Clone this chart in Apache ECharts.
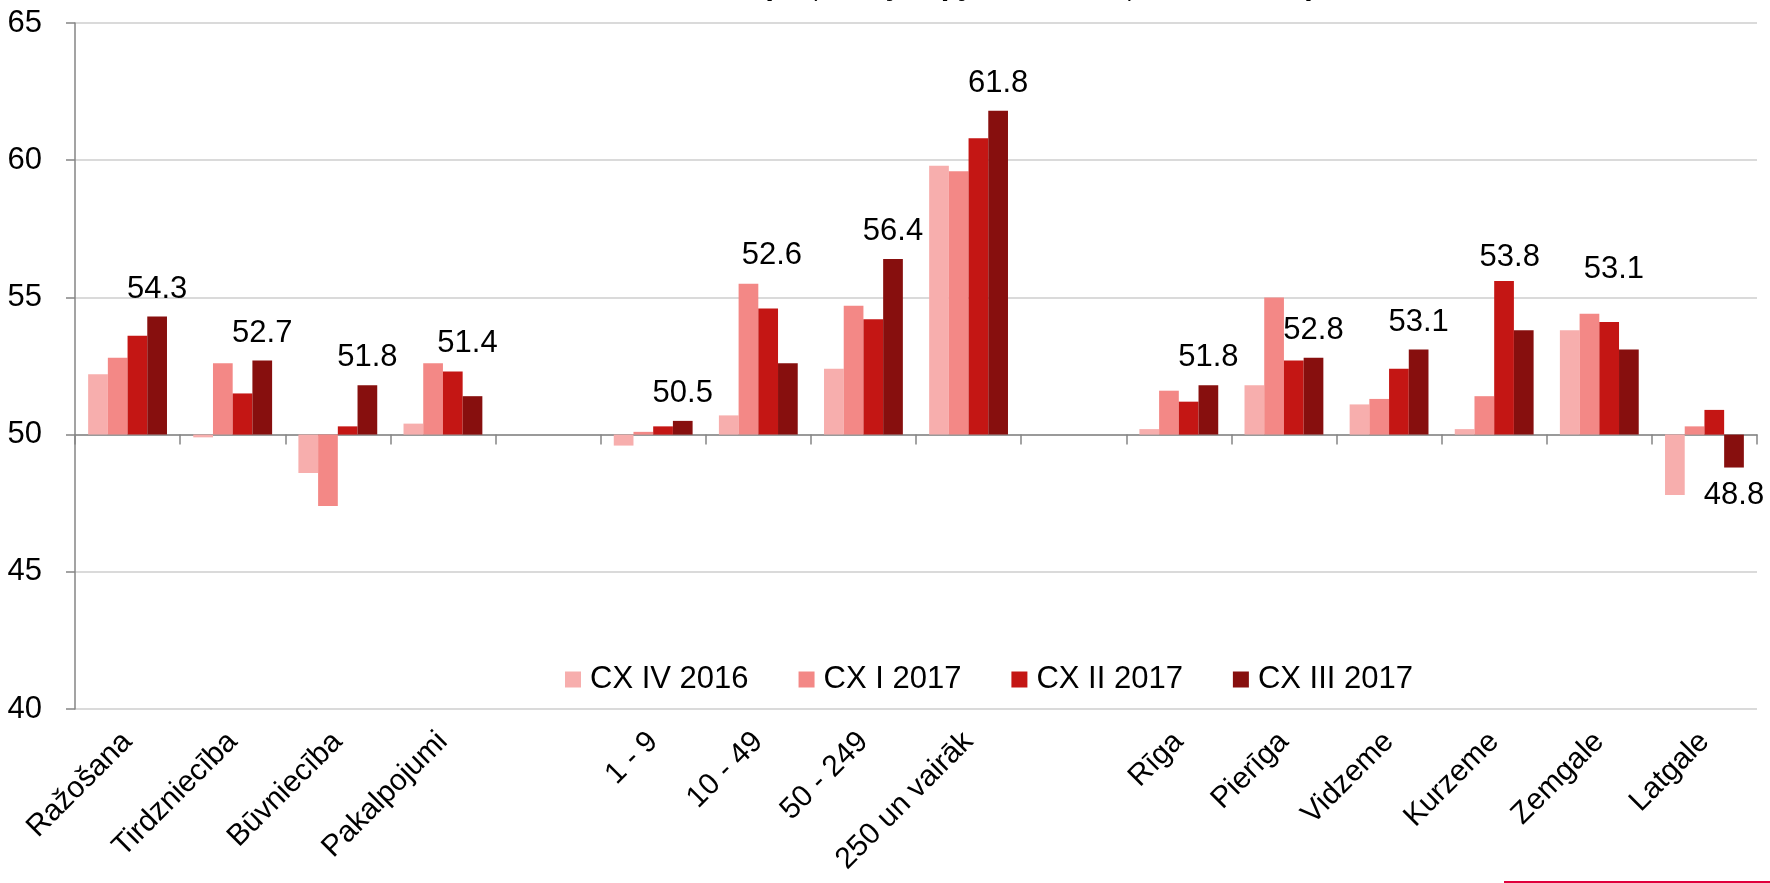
<!DOCTYPE html>
<html lang="lv">
<head>
    <meta charset="UTF-8">
    <title>CX</title>
    <style>
        html, body { margin: 0; padding: 0; background: #fff; }
        #chart { width: 1770px; height: 883px; }
    </style>
</head>
<body>
<div id="chart"></div>

<script src="https://cdn.jsdelivr.net/npm/echarts@6/dist/echarts.min.js"></script>
<script>
    // kategorijas (tukšās vietas - atstarpes starp grupām)
    var categories = ['Ražošana', 'Tirdzniecība', 'Būvniecība', 'Pakalpojumi', '',
        '1 - 9', '10 - 49', '50 - 249', '250 un vairāk', '',
        'Rīga', 'Pierīga', 'Vidzeme', 'Kurzeme', 'Zemgale', 'Latgale'];

    var seriesNames = ['CX IV 2016', 'CX I 2017', 'CX II 2017', 'CX III 2017'];

    var cxIV2016 = [52.2, 49.9, 48.6, 50.4, null, 49.6, 50.7, 52.4, 59.8, null, 50.2, 51.8, 51.1, 50.2, 53.8, 47.8];
    var cxI2017 = [52.8, 52.6, 47.4, 52.6, null, 50.1, 55.5, 54.7, 59.6, null, 51.6, 55.0, 51.3, 51.4, 54.4, 50.3];
    var cxII2017 = [53.6, 51.5, 50.3, 52.3, null, 50.3, 54.6, 54.2, 60.8, null, 51.2, 52.7, 52.4, 55.6, 54.1, 50.9];
    var cxIII2017 = [54.3, 52.7, 51.8, 51.4, null, 50.5, 52.6, 56.4, 61.8, null, 51.8, 52.8, 53.1, 53.8, 53.1, 48.8];

    var yTicks = [40, 45, 50, 55, 60, 65];

    var baseLine = 50;  // stabiņi sākas no 50
    var colors = ['#F7AEAD', '#F38886', '#C41614', '#870F0E'];
    var font = 'Liberation Sans, Arial, sans-serif';

    // dažām vērtību etiķetēm ir pārbīdīta vieta
    var labelShift = {3: [-5, -25], 6: [-16, -80], 13: [-14, -45], 14: [-15, -53]};

    function shifted(arr) {
        return arr.map(function (v) { return v == null ? '-' : +(v - baseLine).toFixed(2); });
    }

    var lastData = cxIII2017.map(function (v, i) {
        if (v == null) return '-';
        var item = {value: +(v - baseLine).toFixed(2), label: {}};
        if (v < baseLine) item.label.position = 'bottom';
        if (labelShift[i]) item.label.offset = labelShift[i];
        return item;
    });

    var allData = [shifted(cxIV2016), shifted(cxI2017), shifted(cxII2017), lastData];

    var series = seriesNames.map(function (name, k) {
        var s = {
            name: name,
            type: 'bar',
            xAxisIndex: 0,
            barGap: '0%',
            barCategoryGap: '25%',
            itemStyle: {color: colors[k]},
            data: allData[k]
        };
        if (k === 3) {
            s.label = {
                show: true,
                position: 'top',
                distance: 12,
                color: '#000',
                fontFamily: font,
                fontSize: 31,
                formatter: function (p) { return cxIII2017[p.dataIndex].toFixed(1); }
            };
        }
        return s;
    });

    var myChart = echarts.init(document.getElementById('chart'));
    var option = {
        animation: false,
        backgroundColor: '#fff',
        grid: {left: 75, right: 13, top: 23, bottom: 174, containLabel: false},
        legend: {
            data: seriesNames,
            left: 560,
            top: 659,
            icon: 'rect',
            itemWidth: 16,
            itemHeight: 16,
            itemGap: 50,
            textStyle: {fontFamily: font, fontSize: 31, color: '#000', padding: [0, 0, 0, 4]}
        },
        xAxis: [{
            type: 'category',
            data: categories,
            axisLine: {onZero: true, lineStyle: {color: '#858585', width: 1.5}},
            axisTick: {show: true, length: 10, lineStyle: {color: '#858585', width: 1.5}},
            axisLabel: {show: false}
        }, {
            type: 'category',
            data: categories,
            position: 'bottom',
            axisLine: {show: false, onZero: false},
            axisTick: {show: false},
            axisLabel: {
                interval: 0,
                rotate: 45,
                margin: 28,
                fontFamily: font,
                fontSize: 30,
                color: '#000'
            }
        }],
        yAxis: {
            type: 'value',
            min: yTicks[0] - baseLine,
            max: yTicks[yTicks.length - 1] - baseLine,
            interval: 5,
            axisLine: {show: true, lineStyle: {color: '#858585', width: 1.5}},
            axisTick: {show: true, length: 9, lineStyle: {color: '#858585', width: 1.5}},
            axisLabel: {
                margin: 33,
                fontFamily: font,
                fontSize: 31,
                color: '#000',
                formatter: function (v) { return v + baseLine; }
            },
            splitLine: {lineStyle: {color: '#dadada', width: 2}}
        },
        graphic: [{
            type: 'text',
            x: 1039,
            y: -15,
            style: {
                text: '(uzņēmēju apjomu izmaiņas, indekss)',
                font: 'bold 31px Liberation Sans, Arial, sans-serif',
                fill: '#000',
                textAlign: 'center',
                textVerticalAlign: 'middle'
            }
        }, {
            type: 'line',
            shape: {x1: 1504, y1: 882, x2: 1770, y2: 882},
            style: {stroke: '#e0003c', lineWidth: 2}
        }],
        series: series
    };
    myChart.setOption(option);
</script>

</body>
</html>
